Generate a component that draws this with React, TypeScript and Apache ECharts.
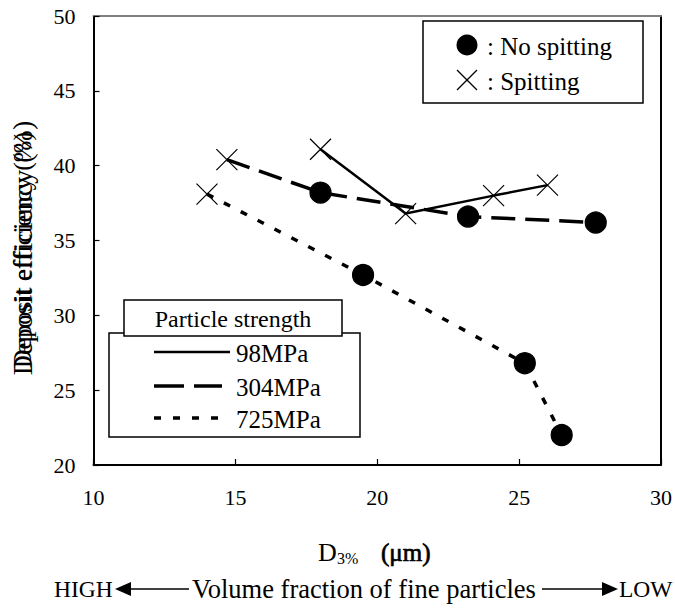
import React, { useEffect, useRef } from "react";
import * as echarts from "echarts";

// ---- data ----
const d3_98 = [18.0, 21.0, 24.1, 26.0];
const eff_98 = [41.1, 36.8, 38.0, 38.7];
const spit_98 = [true, true, true, true];

const d3_304 = [14.7, 18.0, 23.2, 27.7];
const eff_304 = [40.4, 38.2, 36.6, 36.2];
const spit_304 = [true, false, false, false];

const d3_725 = [14.0, 19.5, 25.2, 26.5];
const eff_725 = [38.1, 32.7, 26.8, 22.0];
const spit_725 = [true, false, false, false];

const seriesNames = ["98MPa", "304MPa", "725MPa"];
const markerLabels = [": No spitting", ": Spitting"];
const legendTitle = "Particle strength";
const yTitle = "Deposit efficiency (%)";
const xTitleMain = "D";
const xTitleSub = "3%";
const xTitleUnit = "(μm)";
const bottomLeft = "HIGH";
const bottomMid = "Volume fraction of fine particles";
const bottomRight = "LOW";

const X_MIN = 10, X_MAX = 30, X_INT = 5;
const Y_MIN = 20, Y_MAX = 50, Y_INT = 5;

const FONT = "Liberation Serif";
const X_PATH = "path://M0,0L20,20M20,0L0,20";

function mk(xs: number[], ys: number[], spit: boolean[]) {
  return xs.map((x, i) => ({
    value: [x, ys[i]],
    symbol: spit[i] ? X_PATH : "circle",
    symbolSize: 21,
  }));
}

export default function App() {
  const ref = useRef<HTMLDivElement>(null);
  useEffect(() => {
    if (!ref.current) return;
    const chart = echarts.init(ref.current, null, { renderer: "svg" });
    const lineDash304 = [24, 10];
    const lineDash725 = [7, 12];
    const txt = (x: number, y: number, text: string, size: number, extra: any = {}) => ({
      type: "text",
      x,
      y,
      z: 100,
      style: {
        text,
        fill: "#000",
        fontSize: size,
        fontFamily: FONT,
        textAlign: extra.align || "left",
        textVerticalAlign: "middle",
        ...(extra.stroke ? { stroke: "#000", lineWidth: extra.stroke } : {}),
      },
      ...(extra.rotation !== undefined ? { rotation: extra.rotation } : {}),
    });
    const option: any = {
      animation: false,
      backgroundColor: "#fff",
      textStyle: { fontFamily: FONT },
      grid: { left: 93.5, right: 14, top: 16, bottom: 143, show: false },
      xAxis: [
        {
          type: "value",
          min: X_MIN,
          max: X_MAX,
          interval: X_INT,
          position: "bottom",
          axisLine: { onZero: false, lineStyle: { color: "#000", width: 2 } },
          axisTick: { inside: true, length: 6, lineStyle: { color: "#000", width: 1.2 } },
          axisLabel: { color: "#000", fontSize: 22, fontFamily: FONT, margin: 21 },
          splitLine: { show: false },
        },
        {
          type: "value",
          min: X_MIN,
          max: X_MAX,
          position: "top",
          axisLine: { onZero: false, lineStyle: { color: "#808080", width: 2 } },
          axisTick: { show: false },
          axisLabel: { show: false },
          splitLine: { show: false },
        },
      ],
      yAxis: [
        {
          type: "value",
          min: Y_MIN,
          max: Y_MAX,
          interval: Y_INT,
          position: "left",
          axisLine: { onZero: false, lineStyle: { color: "#000", width: 2 } },
          axisTick: { inside: true, length: 6, lineStyle: { color: "#000", width: 1.2 } },
          axisLabel: { color: "#000", fontSize: 22, fontFamily: FONT, margin: 18 },
          splitLine: { show: false },
        },
        {
          type: "value",
          min: Y_MIN,
          max: Y_MAX,
          position: "right",
          axisLine: { onZero: false, lineStyle: { color: "#000", width: 2 } },
          axisTick: { show: false },
          axisLabel: { show: false },
          splitLine: { show: false },
        },
      ],
      series: [
        {
          name: seriesNames[0],
          type: "line",
          data: mk(d3_98, eff_98, spit_98),
          lineStyle: { color: "#000", width: 2.5, type: "solid" },
          itemStyle: { color: "#000", borderColor: "#000", borderWidth: 1.2 },
          z: 3,
        },
        {
          name: seriesNames[1],
          type: "line",
          data: mk(d3_304, eff_304, spit_304),
          lineStyle: { color: "#000", width: 3.5, type: lineDash304 },
          itemStyle: { color: "#000", borderColor: "#000", borderWidth: 1.2 },
          z: 2,
        },
        {
          name: seriesNames[2],
          type: "line",
          data: mk(d3_725, eff_725, spit_725),
          lineStyle: { color: "#000", width: 3.5, type: lineDash725 },
          itemStyle: { color: "#000", borderColor: "#000", borderWidth: 1.2 },
          z: 2,
        },
      ],
      graphic: [
        // marker legend (top right)
        {
          type: "rect",
          z: 90,
          shape: { x: 423, y: 21, width: 220, height: 82 },
          style: { fill: "#fff", stroke: "#000", lineWidth: 1.5 },
        },
        { type: "circle", z: 100, shape: { cx: 467, cy: 45, r: 10.5 }, style: { fill: "#000" } },
        {
          type: "line",
          z: 100,
          shape: { x1: 457, y1: 70, x2: 477, y2: 90 },
          style: { stroke: "#000", lineWidth: 1.2 },
        },
        {
          type: "line",
          z: 100,
          shape: { x1: 477, y1: 70, x2: 457, y2: 90 },
          style: { stroke: "#000", lineWidth: 1.2 },
        },
        txt(487, 46, markerLabels[0], 25),
        txt(487, 81, markerLabels[1], 25),
        // strength legend (bottom left)
        {
          type: "rect",
          z: 90,
          shape: { x: 109, y: 333, width: 251, height: 104 },
          style: { fill: "#fff", stroke: "#000", lineWidth: 1.5 },
        },
        {
          type: "rect",
          z: 95,
          shape: { x: 124, y: 300, width: 218, height: 36 },
          style: { fill: "#fff", stroke: "#000", lineWidth: 1.5 },
        },
        txt(233, 319, legendTitle, 24, { align: "center" }),
        {
          type: "line",
          z: 100,
          shape: { x1: 154, y1: 352, x2: 230, y2: 352 },
          style: { stroke: "#000", lineWidth: 2.5 },
        },
        {
          type: "line",
          z: 100,
          shape: { x1: 154, y1: 386, x2: 222, y2: 386 },
          style: { stroke: "#000", lineWidth: 3.5, lineDash: [30, 10] },
        },
        {
          type: "line",
          z: 100,
          shape: { x1: 154, y1: 418, x2: 224, y2: 418 },
          style: { stroke: "#000", lineWidth: 3.5, lineDash: lineDash725 },
        },
        txt(236, 353, seriesNames[0], 25),
        txt(236, 387, seriesNames[1], 25),
        txt(236, 419, seriesNames[2], 25),
        // y axis title (doubled, as in the reference)
        txt(22, 250, yTitle, 26, { align: "center", rotation: Math.PI / 2 }),
        txt(22, 248, yTitle, 28, { align: "center", rotation: Math.PI / 2 }),
        // x axis title
        txt(318, 552, xTitleMain, 26),
        txt(337, 558, xTitleSub, 16),
        txt(381, 552, xTitleUnit, 25, { stroke: 0.7 }),
        // bottom arrow line
        txt(54, 589, bottomLeft, 23.5),
        {
          type: "polygon",
          z: 100,
          shape: { points: [[115, 589], [131, 582], [131, 596]] },
          style: { fill: "#000" },
        },
        {
          type: "line",
          z: 100,
          shape: { x1: 129, y1: 589, x2: 189, y2: 589 },
          style: { stroke: "#000", lineWidth: 1.5 },
        },
        txt(192, 589, bottomMid, 26.5),
        {
          type: "line",
          z: 100,
          shape: { x1: 542, y1: 589, x2: 604, y2: 589 },
          style: { stroke: "#000", lineWidth: 1.5 },
        },
        {
          type: "polygon",
          z: 100,
          shape: { points: [[618, 589], [602, 582], [602, 596]] },
          style: { fill: "#000" },
        },
        txt(619, 589, bottomRight, 23.5),
      ],
    };
    chart.setOption(option);
    return () => chart.dispose();
  }, []);
  return (
    <div
      ref={ref}
      style={{ position: "fixed", left: 0, top: 0, width: 675, height: 608, background: "#fff" }}
    />
  );
}
